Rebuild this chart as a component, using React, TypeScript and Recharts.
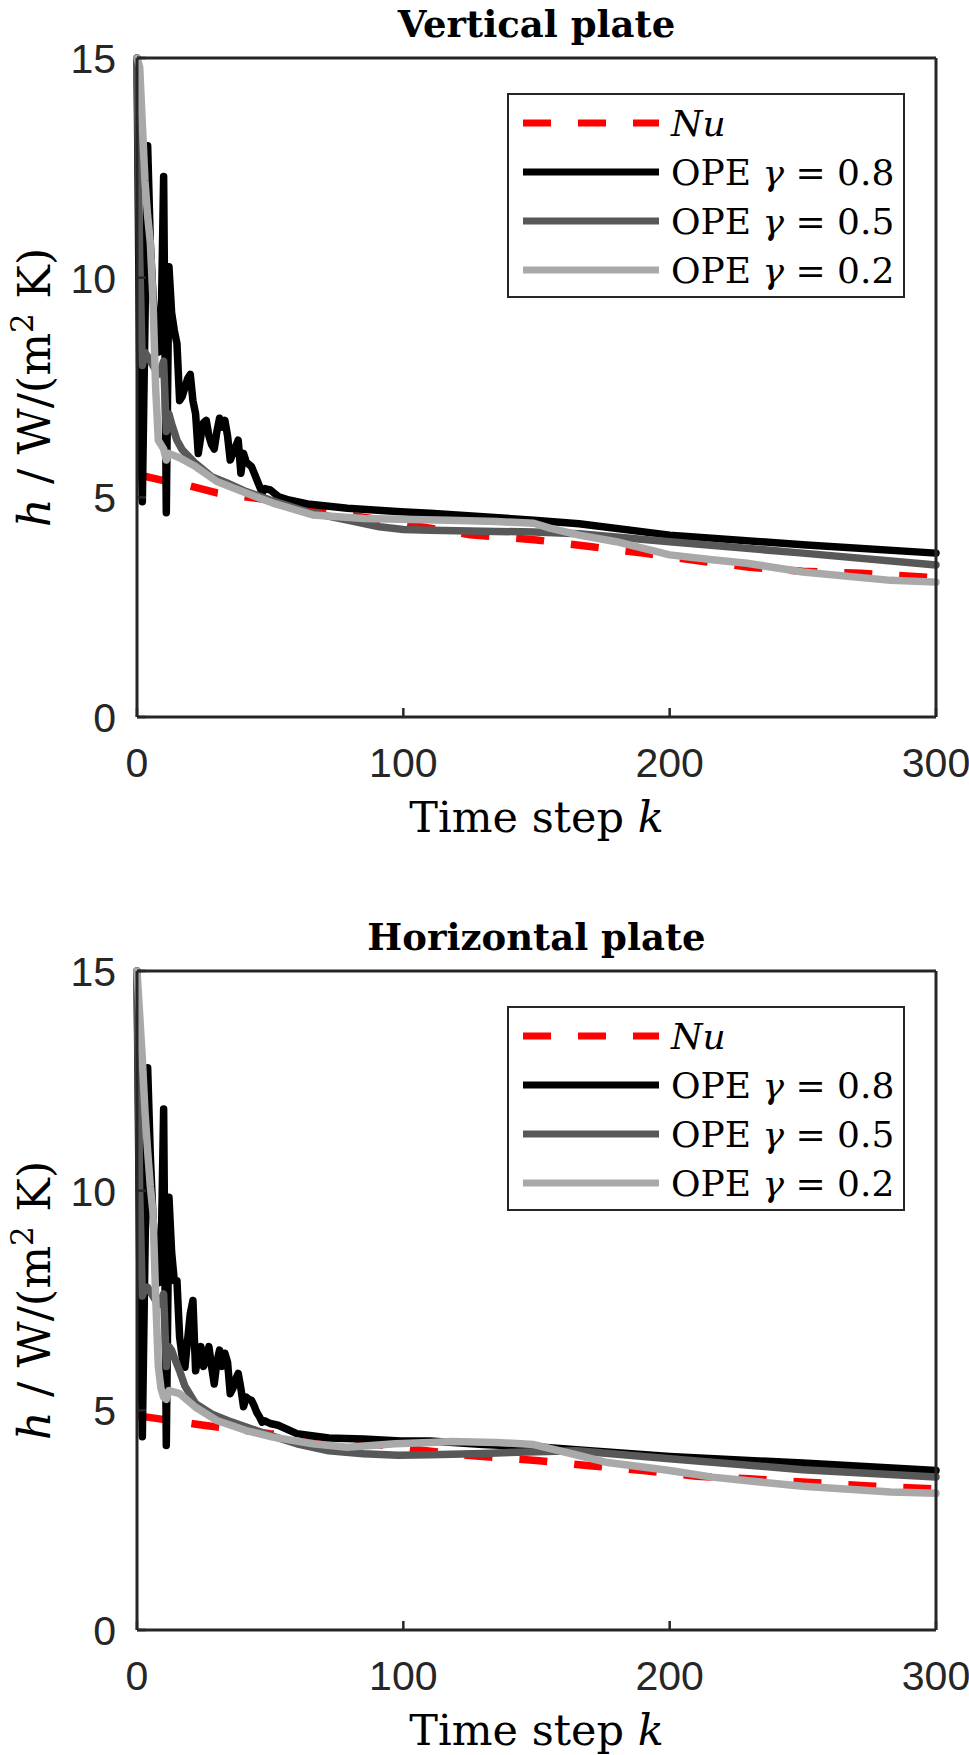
import React from "react";
import { LineChart, Line, XAxis, YAxis, Legend } from "recharts";

// ---- Vertical plate ----
const verticalNuK = [0, 10, 20, 30, 47, 67, 85, 100, 125, 150, 170, 190, 210, 230, 250, 272, 300];
const verticalNuH = [5.52, 5.38, 5.26, 5.1, 4.96, 4.7, 4.55, 4.4, 4.15, 4.03, 3.88, 3.73, 3.56, 3.41, 3.32, 3.27, 3.17];

const verticalG08K = [
  0, 1, 2, 3, 4, 5, 6, 7, 8, 9, 10, 11, 12, 13, 14, 15, 16, 17, 18, 19, 20, 21, 22, 23, 24, 25,
  26, 27, 28, 29, 30, 31, 32, 33, 34, 35, 36, 37, 38, 39, 40, 41, 42, 43, 44, 45, 46, 47, 48,
  50, 53, 57, 64, 79, 99, 110, 130, 149, 166, 200, 250, 300,
];
const verticalG08H = [
  15, 8.0, 4.9, 9.0, 13.0, 10.8, 9.6, 8.8, 8.3, 8.6, 12.3, 4.65, 10.25, 9.2, 8.8, 8.5, 7.2, 7.3,
  7.5, 7.7, 7.8, 7.2, 6.9, 6.0, 6.4, 6.7, 6.75, 6.4, 6.2, 6.1, 6.5, 6.8, 6.6, 6.75, 6.4, 5.85,
  6.0, 6.15, 6.3, 5.55, 6.0, 5.8, 5.75, 5.7, 5.55, 5.4, 5.25, 5.1, 5.2,
  5.17, 5.02, 4.94, 4.85, 4.75, 4.67, 4.64, 4.56, 4.48, 4.4, 4.14, 3.92, 3.73,
];

const verticalG05K = [
  0, 1, 2, 3, 4, 5, 6, 7, 8, 9, 10, 11, 12, 13, 15, 17, 22, 28, 34, 41, 50, 64, 79, 91, 100,
  110, 130, 149, 166, 200, 250, 300,
];
const verticalG05H = [
  15, 10.5, 8.0, 8.3, 8.2, 8.1, 8.0, 7.9, 7.8, 7.9, 8.1, 6.5, 6.9, 6.67, 6.3, 6.08, 5.77, 5.47,
  5.32, 5.13, 4.94, 4.67, 4.48, 4.33, 4.27, 4.25, 4.23, 4.21, 4.17, 3.99, 3.73, 3.46,
];

const verticalG02K = [
  0, 1, 2, 3, 4, 5, 6, 7, 8, 9, 10, 11, 12, 14, 16, 22, 30, 41, 51, 66, 85, 99, 117, 135, 149,
  155, 166, 180, 200, 216, 229, 250, 283, 300,
];
const verticalG02H = [
  15, 14.8, 13.5, 12.2, 11.4, 10.8, 9.5, 7.5, 6.3, 6.2, 6.1, 5.85, 6.0, 5.95, 5.9, 5.7, 5.36,
  5.1, 4.87, 4.6, 4.52, 4.5, 4.48, 4.45, 4.41, 4.3, 4.14, 3.99, 3.69, 3.58, 3.5, 3.3, 3.11, 3.07,
];

// ---- Horizontal plate ----
const horizontalNuK = [0, 25, 50, 75, 100, 125, 150, 170, 190, 210, 230, 250, 275, 300];
const horizontalNuH = [4.88, 4.66, 4.47, 4.35, 4.14, 3.97, 3.86, 3.74, 3.63, 3.5, 3.44, 3.37, 3.28, 3.21];

const horizontalG08K = [
  0, 1, 2, 3, 4, 5, 6, 7, 8, 9, 10, 11, 12, 13, 14, 15, 16, 17, 18, 19, 20, 21, 22, 23, 24, 25,
  26, 27, 28, 29, 30, 31, 32, 33, 34, 35, 36, 37, 38, 39, 40, 41, 42, 43, 44, 45, 46, 47, 48,
  50, 53, 60, 72, 85, 99, 110, 130, 150, 170, 200, 250, 300,
];
const horizontalG08H = [
  15, 8.5, 4.4, 8.6, 12.8, 10.8, 9.4, 8.5, 7.9, 8.3, 11.86, 4.2, 9.85, 8.6, 7.95, 7.95, 6.67,
  6.2, 5.98, 6.6, 7.2, 7.5, 5.9, 6.2, 6.45, 6.0, 6.2, 6.45, 6.0, 5.6, 6.1, 6.37, 6.0, 6.3, 6.1,
  5.38, 5.5, 5.7, 5.84, 5.5, 5.08, 5.3, 5.25, 5.23, 5.1, 4.95, 4.85, 4.73, 4.76,
  4.7, 4.66, 4.47, 4.37, 4.35, 4.3, 4.3, 4.22, 4.17, 4.08, 3.95, 3.8, 3.63,
];

const horizontalG05K = [
  0, 1, 2, 3, 4, 5, 6, 7, 8, 9, 10, 11, 12, 13, 14, 16, 18, 22, 28, 34, 41, 50, 60, 72, 85, 98,
  110, 130, 150, 165, 200, 250, 300,
];
const horizontalG05H = [
  15, 10.0, 7.6, 7.8, 7.8, 7.7, 7.6, 7.5, 7.4, 7.5, 7.65, 6.0, 6.45, 6.37, 6.2, 5.9, 5.55, 5.15,
  4.92, 4.77, 4.62, 4.43, 4.24, 4.08, 4.01, 3.98, 3.99, 4.02, 4.06, 4.08, 3.9, 3.65, 3.48,
];

const horizontalG02K = [
  0, 1, 2, 3, 4, 5, 6, 7, 8, 9, 10, 11, 12, 16, 22, 30, 41, 51, 66, 79, 97, 110, 118, 135, 149,
  164, 176, 200, 216, 250, 283, 300,
];
const horizontalG02H = [
  15, 14, 13, 11.8, 10.9, 10.1, 9.5, 7.6, 6.0, 5.5, 5.3, 5.25, 5.45, 5.38, 5.07, 4.77, 4.54,
  4.39, 4.24, 4.16, 4.24, 4.27, 4.29, 4.27, 4.22, 4.0, 3.82, 3.63, 3.48, 3.27, 3.14, 3.11,
];

const xTicks = [0, 100, 200, 300];
const yTicks = [0, 5, 10, 15];

const AXIS = "#262626";
const TICK_FONT = "'Liberation Sans', Arial, sans-serif";
const SERIF = "'DejaVu Serif', serif";

const toPoints = (k: number[], h: number[]) => k.map((x, i) => ({ k: x, h: h[i] }));

const seriesStyle = [
  { name: "Nu", color: "#ff0000", dash: "28 27" },
  { name: "0.8", color: "#000000", dash: undefined },
  { name: "0.5", color: "#585858", dash: undefined },
  { name: "0.2", color: "#a9a9a9", dash: undefined },
];

// ticks point inward, like a boxed MATLAB axes
const BottomTick = (props: any) => {
  const { x, y, payload } = props;
  return (
    <g>
      <line x1={x} x2={x} y1={y} y2={y - 9} stroke={AXIS} strokeWidth={2.5} />
      <text x={x} y={y + 60} textAnchor="middle" fontFamily={TICK_FONT} fontSize={41} fill={AXIS}>
        {payload.value}
      </text>
    </g>
  );
};

const TopTick = (props: any) => {
  const { x, y } = props;
  return <line x1={x} x2={x} y1={y} y2={y + 9} stroke={AXIS} strokeWidth={2.5} />;
};

const LeftTick = (props: any) => {
  const { x, y, payload } = props;
  return (
    <g>
      <line x1={x} x2={x + 9} y1={y} y2={y} stroke={AXIS} strokeWidth={2.5} />
      <text x={x - 21} y={y + 15} textAnchor="end" fontFamily={TICK_FONT} fontSize={41} fill={AXIS}>
        {payload.value}
      </text>
    </g>
  );
};

const RightTick = (props: any) => {
  const { x, y } = props;
  return <line x1={x} x2={x - 9} y1={y} y2={y} stroke={AXIS} strokeWidth={2.5} />;
};

const LegendBox = () => (
  <div
    style={{
      position: "relative",
      width: 398,
      height: 205,
      boxSizing: "border-box",
      border: `2.5px solid ${AXIS}`,
      background: "#fff",
      fontFamily: SERIF,
      fontSize: 36,
      color: "#000",
    }}
  >
    {seriesStyle.map((s, i) => (
      <div
        key={s.name}
        style={{
          position: "absolute",
          left: 13,
          top: 28 + i * 49 - 25,
          height: 50,
          display: "flex",
          alignItems: "center",
          whiteSpace: "nowrap",
        }}
      >
        <svg width={138} height={10} style={{ display: "block" }}>
          <line x1={1} x2={137} y1={5} y2={5} stroke={s.color} strokeWidth={7} strokeDasharray={s.dash} />
        </svg>
        <span style={{ marginLeft: 11 }}>
          {s.name === "Nu" ? (
            <i>Nu</i>
          ) : (
            <>
              OPE <i>γ</i> = {s.name}
            </>
          )}
        </span>
      </div>
    ))}
  </div>
);

type PlotProps = {
  title: string;
  height: number;
  series: { k: number; h: number }[][];
};

const Plot = ({ title, height, series }: PlotProps) => (
  <LineChart width={969} height={height} margin={{ top: 57, right: 32, bottom: height - 718, left: 136 }}>
    <XAxis
      type="number"
      dataKey="k"
      domain={[0, 300]}
      ticks={xTicks}
      interval={0}
      height={1}
      tickSize={0}
      tickMargin={0}
      tickLine={false}
      axisLine={{ stroke: AXIS, strokeWidth: 3 }}
      tick={<BottomTick />}
      label={{
        content: (p: any) => {
          const vb = p.viewBox;
          return (
            <text x={vb.x + vb.width / 2} y={vb.y + 115} textAnchor="middle" fontFamily={SERIF} fontSize={43} fill="#000">
              Time step <tspan fontStyle="italic">k</tspan>
            </text>
          );
        },
      }}
    />
    <XAxis
      xAxisId="top"
      orientation="top"
      type="number"
      dataKey="k"
      domain={[0, 300]}
      ticks={xTicks}
      interval={0}
      height={1}
      tickSize={0}
      tickMargin={0}
      tickLine={false}
      axisLine={{ stroke: AXIS, strokeWidth: 3 }}
      tick={<TopTick />}
      label={{
        content: (p: any) => {
          const vb = p.viewBox;
          return (
            <text x={vb.x + vb.width / 2} y={vb.y - 20} textAnchor="middle" fontFamily={SERIF} fontWeight="bold" fontSize={37} fill="#000">
              {title}
            </text>
          );
        },
      }}
    />
    <YAxis
      type="number"
      domain={[0, 15]}
      ticks={yTicks}
      interval={0}
      width={1}
      tickSize={0}
      tickMargin={0}
      tickLine={false}
      axisLine={{ stroke: AXIS, strokeWidth: 3 }}
      tick={<LeftTick />}
      label={{
        content: (p: any) => {
          const vb = p.viewBox;
          const cx = vb.x - 86;
          const cy = vb.y + vb.height / 2;
          return (
            <text x={cx} y={cy} transform={`rotate(-90 ${cx} ${cy})`} textAnchor="middle" fontFamily={SERIF} fontSize={45} fill="#000">
              <tspan fontStyle="italic">h</tspan> / W/(m<tspan dy={-17} fontSize={31}>2</tspan>
              <tspan dy={17}> K)</tspan>
            </text>
          );
        },
      }}
    />
    <YAxis
      yAxisId="right"
      orientation="right"
      type="number"
      domain={[0, 15]}
      ticks={yTicks}
      interval={0}
      width={1}
      tickSize={0}
      tickMargin={0}
      tickLine={false}
      axisLine={{ stroke: AXIS, strokeWidth: 3 }}
      tick={<RightTick />}
    />
    {series.map((pts, i) => (
      <Line
        key={seriesStyle[i].name}
        data={pts}
        dataKey="h"
        type="linear"
        stroke={seriesStyle[i].color}
        strokeWidth={7.5}
        strokeDasharray={seriesStyle[i].dash}
        strokeLinejoin="round"
        strokeLinecap={seriesStyle[i].dash ? "butt" : "round"}
        dot={false}
        activeDot={false}
        isAnimationActive={false}
      />
    ))}
    <Legend
      layout="horizontal"
      verticalAlign="middle"
      align="center"
      wrapperStyle={{ left: 507, top: 93, width: 398 }}
      content={() => <LegendBox />}
    />
  </LineChart>
);

export default function App() {
  const vertical = [
    toPoints(verticalNuK, verticalNuH),
    toPoints(verticalG08K, verticalG08H),
    toPoints(verticalG05K, verticalG05H),
    toPoints(verticalG02K, verticalG02H),
  ];
  const horizontal = [
    toPoints(horizontalNuK, horizontalNuH),
    toPoints(horizontalG08K, horizontalG08H),
    toPoints(horizontalG05K, horizontalG05H),
    toPoints(horizontalG02K, horizontalG02H),
  ];
  return (
    <div style={{ position: "absolute", left: 0, top: 0, width: 969, height: 1755, background: "#fff" }}>
      <Plot title="Vertical plate" height={913} series={vertical} />
      <Plot title="Horizontal plate" height={842} series={horizontal} />
    </div>
  );
}
